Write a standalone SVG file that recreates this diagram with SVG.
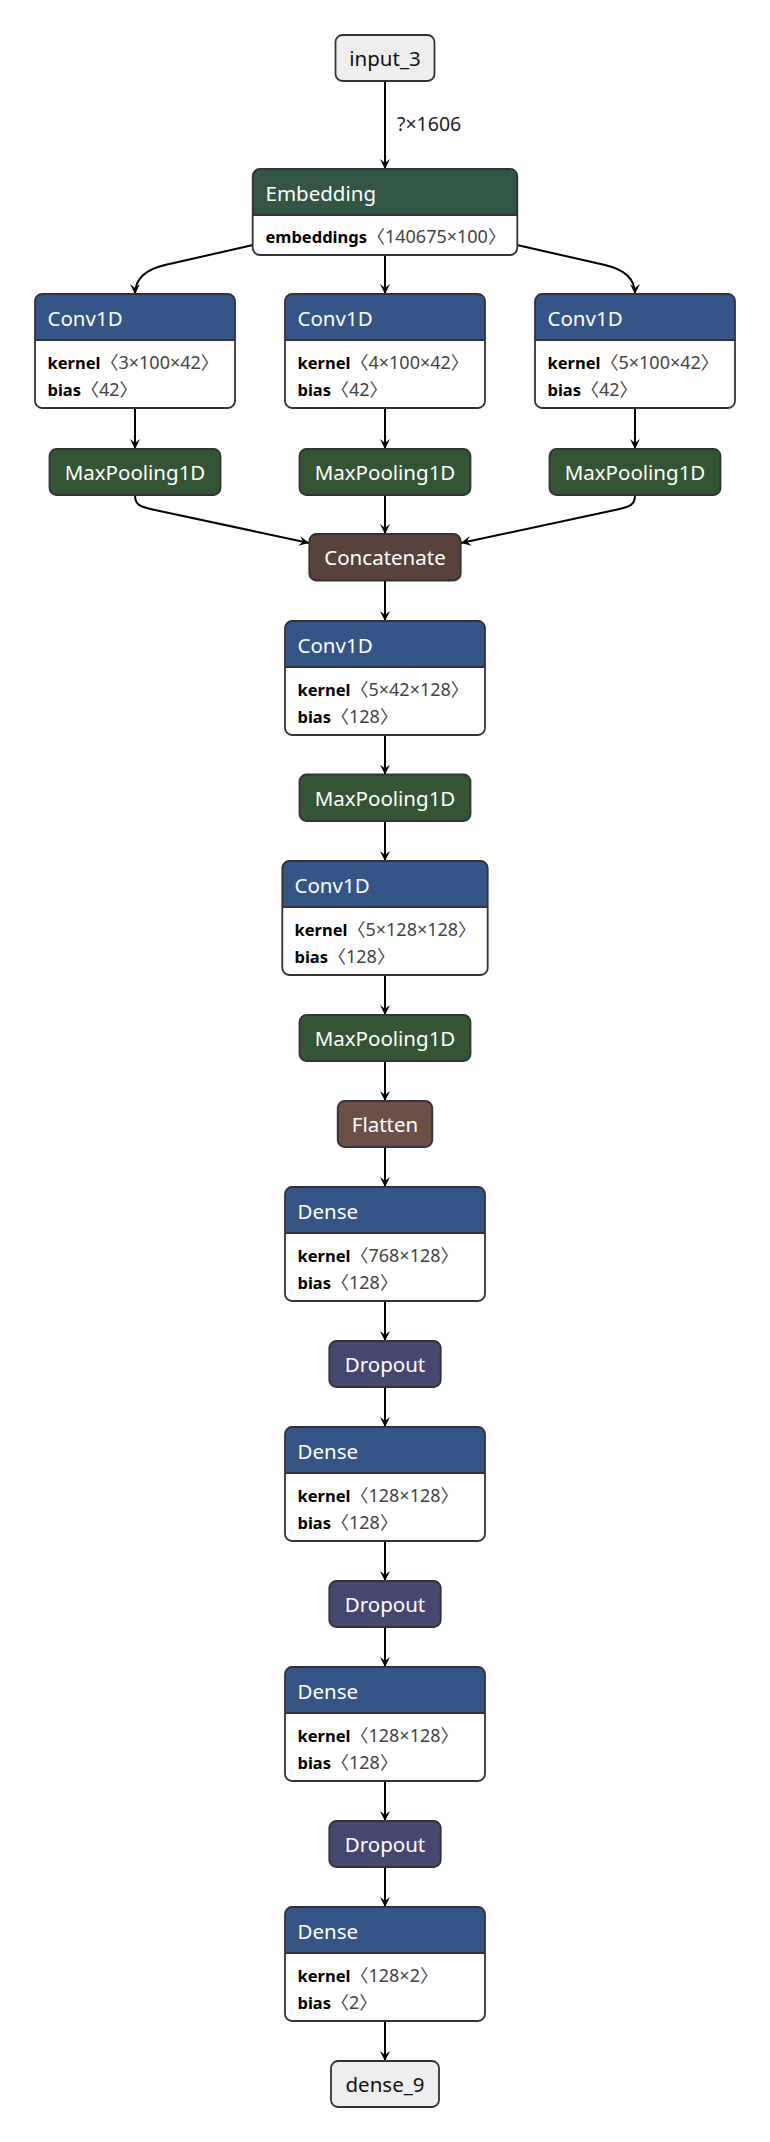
<svg xmlns="http://www.w3.org/2000/svg" width="770" height="2142" viewBox="0 0 770 2142">
<style>
.bg{fill:#fff}
.border{fill:none;stroke:#333;stroke-width:1.8}
.sep{stroke:#333;stroke-width:1.8}
.layer{fill:#335588}
.pool{fill:#335533}
.transform{fill:#335544}
.tensor{fill:#59423b}
.shape{fill:#6c4f47}
.dropout{fill:#454770}
.wrapper{fill:#eeeeee}
.hdr{font-family:"Noto Sans","Noto Sans CJK SC",sans-serif;font-size:20.5px;fill:#fff}
.ctr{text-anchor:middle}
.wtxt{fill:#111}
.attr{font-family:"Noto Sans","Noto Sans CJK SC",sans-serif;font-size:18px;fill:#444}
.nm{font-weight:bold;fill:#000;font-size:16.5px}
.edge{fill:none;stroke:#000;stroke-width:2;marker-end:url(#arrow)}
.elabel{font-family:"Noto Sans",sans-serif;font-size:19.5px;fill:#222}
</style>
<defs>
<marker id="arrow" viewBox="0 0 10 10" refX="10" refY="5" markerUnits="userSpaceOnUse" markerWidth="10" markerHeight="10" orient="auto">
<path d="M0,0 L10,5 L0,10 L4,5 Z" fill="#000"/>
</marker>
</defs>

<g id="edges">
<path class="edge" d="M385,81 V169"/>
<text class="elabel" x="397" y="131">?×1606</text>
<path class="edge" d="M385,255 V294"/>
<path class="edge" d="M253,245 L165,265 C143,270 135,280 135,294"/>
<path class="edge" d="M517,245 L605,265 C627,270 635,280 635,294"/>
<path class="edge" d="M135,408 V449"/>
<path class="edge" d="M385,408 V449"/>
<path class="edge" d="M635,408 V449"/>
<path class="edge" d="M135,495 C135,505 140,507 155,510 L309,543"/>
<path class="edge" d="M385,495 V534"/>
<path class="edge" d="M635,495 C635,505 630,507 615,510 L461,543"/>
<path class="edge" d="M385,580 V621"/>
<path class="edge" d="M385,735 V774.5"/>
<path class="edge" d="M385,821 V861"/>
<path class="edge" d="M385,975 V1015"/>
<path class="edge" d="M385,1061 V1101"/>
<path class="edge" d="M385,1147 V1187"/>
<path class="edge" d="M385,1301 V1341"/>
<path class="edge" d="M385,1387 V1427"/>
<path class="edge" d="M385,1541 V1581"/>
<path class="edge" d="M385,1627 V1667"/>
<path class="edge" d="M385,1781 V1821"/>
<path class="edge" d="M385,1867 V1907"/>
<path class="edge" d="M385,2021 V2061"/>
</g>

<g id="input_3">
<rect class="wrapper" x="335.5" y="35" width="99" height="46" rx="7"/>
<rect class="border" x="335.5" y="35" width="99" height="46" rx="7"/>
<text class="hdr ctr wtxt" x="385" y="66">input_3</text>
</g>

<g id="embedding">
<rect class="bg" x="252.7" y="169" width="264.6" height="86" rx="7"/>
<path class="transform" d="M252.7,215 V176 A7,7 0 0 1 259.7,169 H510.3 A7,7 0 0 1 517.3,176 V215 Z"/>
<line class="sep" x1="252.7" y1="215" x2="517.3" y2="215"/>
<rect class="border" x="252.7" y="169" width="264.6" height="86" rx="7"/>
<text class="hdr" x="265.5" y="200.5">Embedding</text>
<text class="attr" x="265.5" y="243"><tspan class="nm">embeddings</tspan><tspan>〈140675×100〉</tspan></text>
</g>

<g id="conv1d_l">
<rect class="bg" x="35" y="294" width="200" height="114" rx="7"/>
<path class="layer" d="M35,340 V301 A7,7 0 0 1 42,294 H228 A7,7 0 0 1 235,301 V340 Z"/>
<line class="sep" x1="35" y1="340" x2="235" y2="340"/>
<rect class="border" x="35" y="294" width="200" height="114" rx="7"/>
<text class="hdr" x="47.5" y="325.5">Conv1D</text>
<text class="attr" x="47.5" y="368.5"><tspan class="nm">kernel</tspan><tspan>〈3×100×42〉</tspan></text>
<text class="attr" x="47.5" y="396"><tspan class="nm">bias</tspan><tspan>〈42〉</tspan></text>
</g>

<g id="conv1d_c">
<rect class="bg" x="285" y="294" width="200" height="114" rx="7"/>
<path class="layer" d="M285,340 V301 A7,7 0 0 1 292,294 H478 A7,7 0 0 1 485,301 V340 Z"/>
<line class="sep" x1="285" y1="340" x2="485" y2="340"/>
<rect class="border" x="285" y="294" width="200" height="114" rx="7"/>
<text class="hdr" x="297.5" y="325.5">Conv1D</text>
<text class="attr" x="297.5" y="368.5"><tspan class="nm">kernel</tspan><tspan>〈4×100×42〉</tspan></text>
<text class="attr" x="297.5" y="396"><tspan class="nm">bias</tspan><tspan>〈42〉</tspan></text>
</g>

<g id="conv1d_r">
<rect class="bg" x="535" y="294" width="200" height="114" rx="7"/>
<path class="layer" d="M535,340 V301 A7,7 0 0 1 542,294 H728 A7,7 0 0 1 735,301 V340 Z"/>
<line class="sep" x1="535" y1="340" x2="735" y2="340"/>
<rect class="border" x="535" y="294" width="200" height="114" rx="7"/>
<text class="hdr" x="547.5" y="325.5">Conv1D</text>
<text class="attr" x="547.5" y="368.5"><tspan class="nm">kernel</tspan><tspan>〈5×100×42〉</tspan></text>
<text class="attr" x="547.5" y="396"><tspan class="nm">bias</tspan><tspan>〈42〉</tspan></text>
</g>

<g id="maxpool_l">
<rect class="pool" x="49.5" y="449" width="171" height="46" rx="7"/>
<rect class="border" x="49.5" y="449" width="171" height="46" rx="7"/>
<text class="hdr ctr" x="135" y="480">MaxPooling1D</text>
</g>

<g id="maxpool_c">
<rect class="pool" x="299.5" y="449" width="171" height="46" rx="7"/>
<rect class="border" x="299.5" y="449" width="171" height="46" rx="7"/>
<text class="hdr ctr" x="385" y="480">MaxPooling1D</text>
</g>

<g id="maxpool_r">
<rect class="pool" x="549.5" y="449" width="171" height="46" rx="7"/>
<rect class="border" x="549.5" y="449" width="171" height="46" rx="7"/>
<text class="hdr ctr" x="635" y="480">MaxPooling1D</text>
</g>

<g id="concatenate">
<rect class="tensor" x="309.3" y="534" width="151.4" height="46.5" rx="7"/>
<rect class="border" x="309.3" y="534" width="151.4" height="46.5" rx="7"/>
<text class="hdr ctr" x="385" y="565">Concatenate</text>
</g>

<g id="conv1d_4">
<rect class="bg" x="285" y="621" width="200" height="114" rx="7"/>
<path class="layer" d="M285,667 V628 A7,7 0 0 1 292,621 H478 A7,7 0 0 1 485,628 V667 Z"/>
<line class="sep" x1="285" y1="667" x2="485" y2="667"/>
<rect class="border" x="285" y="621" width="200" height="114" rx="7"/>
<text class="hdr" x="297.5" y="652.5">Conv1D</text>
<text class="attr" x="297.5" y="695.5"><tspan class="nm">kernel</tspan><tspan>〈5×42×128〉</tspan></text>
<text class="attr" x="297.5" y="723"><tspan class="nm">bias</tspan><tspan>〈128〉</tspan></text>
</g>

<g id="maxpool_2">
<rect class="pool" x="299.5" y="774.5" width="171" height="46.5" rx="7"/>
<rect class="border" x="299.5" y="774.5" width="171" height="46.5" rx="7"/>
<text class="hdr ctr" x="385" y="806">MaxPooling1D</text>
</g>

<g id="conv1d_5">
<rect class="bg" x="282.3" y="861" width="205.4" height="114" rx="7"/>
<path class="layer" d="M282.3,907 V868 A7,7 0 0 1 289.3,861 H480.7 A7,7 0 0 1 487.7,868 V907 Z"/>
<line class="sep" x1="282.3" y1="907" x2="487.7" y2="907"/>
<rect class="border" x="282.3" y="861" width="205.4" height="114" rx="7"/>
<text class="hdr" x="294.5" y="892.5">Conv1D</text>
<text class="attr" x="294.5" y="935.5"><tspan class="nm">kernel</tspan><tspan>〈5×128×128〉</tspan></text>
<text class="attr" x="294.5" y="963"><tspan class="nm">bias</tspan><tspan>〈128〉</tspan></text>
</g>

<g id="maxpool_3">
<rect class="pool" x="299.5" y="1015" width="171" height="46" rx="7"/>
<rect class="border" x="299.5" y="1015" width="171" height="46" rx="7"/>
<text class="hdr ctr" x="385" y="1046">MaxPooling1D</text>
</g>

<g id="flatten">
<rect class="shape" x="337.7" y="1101" width="94.6" height="46" rx="7"/>
<rect class="border" x="337.7" y="1101" width="94.6" height="46" rx="7"/>
<text class="hdr ctr" x="385" y="1132">Flatten</text>
</g>

<g id="dense_1">
<rect class="bg" x="285" y="1187" width="200" height="114" rx="7"/>
<path class="layer" d="M285,1233 V1194 A7,7 0 0 1 292,1187 H478 A7,7 0 0 1 485,1194 V1233 Z"/>
<line class="sep" x1="285" y1="1233" x2="485" y2="1233"/>
<rect class="border" x="285" y="1187" width="200" height="114" rx="7"/>
<text class="hdr" x="297.5" y="1218.5">Dense</text>
<text class="attr" x="297.5" y="1261.5"><tspan class="nm">kernel</tspan><tspan>〈768×128〉</tspan></text>
<text class="attr" x="297.5" y="1289"><tspan class="nm">bias</tspan><tspan>〈128〉</tspan></text>
</g>

<g id="dropout_1">
<rect class="dropout" x="329.3" y="1341" width="111.4" height="46" rx="7"/>
<rect class="border" x="329.3" y="1341" width="111.4" height="46" rx="7"/>
<text class="hdr ctr" x="385" y="1372">Dropout</text>
</g>

<g id="dense_2">
<rect class="bg" x="285" y="1427" width="200" height="114" rx="7"/>
<path class="layer" d="M285,1473 V1434 A7,7 0 0 1 292,1427 H478 A7,7 0 0 1 485,1434 V1473 Z"/>
<line class="sep" x1="285" y1="1473" x2="485" y2="1473"/>
<rect class="border" x="285" y="1427" width="200" height="114" rx="7"/>
<text class="hdr" x="297.5" y="1458.5">Dense</text>
<text class="attr" x="297.5" y="1501.5"><tspan class="nm">kernel</tspan><tspan>〈128×128〉</tspan></text>
<text class="attr" x="297.5" y="1529"><tspan class="nm">bias</tspan><tspan>〈128〉</tspan></text>
</g>

<g id="dropout_2">
<rect class="dropout" x="329.3" y="1581" width="111.4" height="46" rx="7"/>
<rect class="border" x="329.3" y="1581" width="111.4" height="46" rx="7"/>
<text class="hdr ctr" x="385" y="1612">Dropout</text>
</g>

<g id="dense_3">
<rect class="bg" x="285" y="1667" width="200" height="114" rx="7"/>
<path class="layer" d="M285,1713 V1674 A7,7 0 0 1 292,1667 H478 A7,7 0 0 1 485,1674 V1713 Z"/>
<line class="sep" x1="285" y1="1713" x2="485" y2="1713"/>
<rect class="border" x="285" y="1667" width="200" height="114" rx="7"/>
<text class="hdr" x="297.5" y="1698.5">Dense</text>
<text class="attr" x="297.5" y="1741.5"><tspan class="nm">kernel</tspan><tspan>〈128×128〉</tspan></text>
<text class="attr" x="297.5" y="1769"><tspan class="nm">bias</tspan><tspan>〈128〉</tspan></text>
</g>

<g id="dropout_3">
<rect class="dropout" x="329.3" y="1821" width="111.4" height="46" rx="7"/>
<rect class="border" x="329.3" y="1821" width="111.4" height="46" rx="7"/>
<text class="hdr ctr" x="385" y="1852">Dropout</text>
</g>

<g id="dense_4">
<rect class="bg" x="285" y="1907" width="200" height="114" rx="7"/>
<path class="layer" d="M285,1953 V1914 A7,7 0 0 1 292,1907 H478 A7,7 0 0 1 485,1914 V1953 Z"/>
<line class="sep" x1="285" y1="1953" x2="485" y2="1953"/>
<rect class="border" x="285" y="1907" width="200" height="114" rx="7"/>
<text class="hdr" x="297.5" y="1938.5">Dense</text>
<text class="attr" x="297.5" y="1981.5"><tspan class="nm">kernel</tspan><tspan>〈128×2〉</tspan></text>
<text class="attr" x="297.5" y="2009"><tspan class="nm">bias</tspan><tspan>〈2〉</tspan></text>
</g>

<g id="dense_9">
<rect class="wrapper" x="331" y="2061" width="108" height="46" rx="7"/>
<rect class="border" x="331" y="2061" width="108" height="46" rx="7"/>
<text class="hdr ctr wtxt" x="385" y="2092">dense_9</text>
</g>
</svg>
